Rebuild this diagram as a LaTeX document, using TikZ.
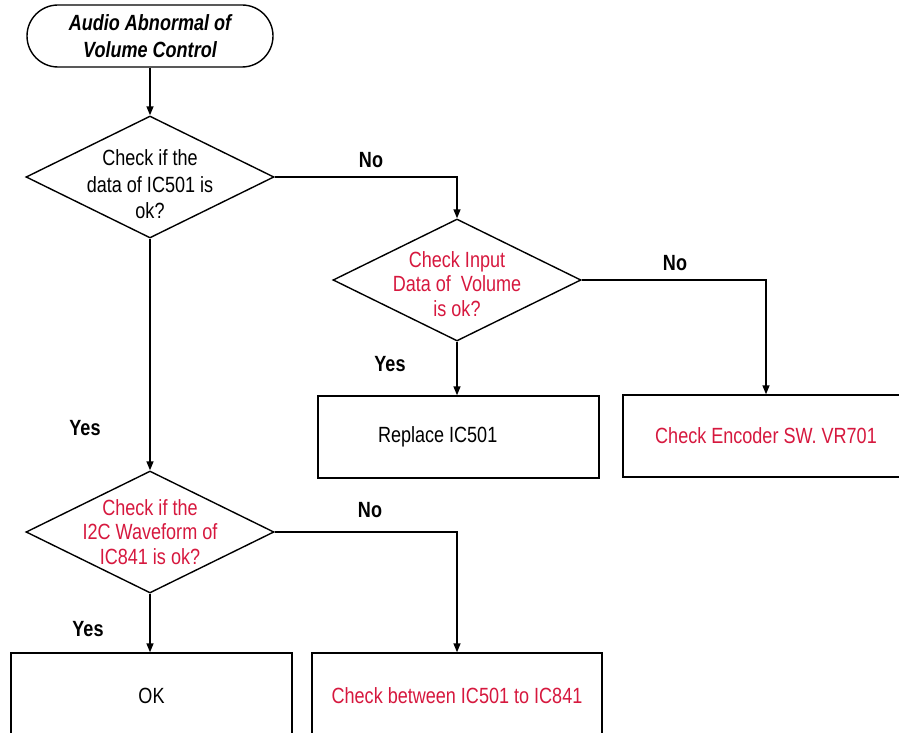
\documentclass[tikz,border=0pt]{standalone}
\usepackage{fontspec}
\setmainfont{Liberation Sans}[FakeStretch=0.82]
\usetikzlibrary{shapes.geometric,arrows.meta}
\definecolor{chkred}{RGB}{214,24,62}
\newcommand{\asktext}[2]{\raisebox{#1}[\height][\depth]{\begin{tabular}{@{}c@{}}#2\end{tabular}}}

\begin{document}
\begin{tikzpicture}[x=1pt,y=1pt,line width=1.4pt,
  >={Triangle[length=9pt,width=7pt]},
  every node/.style={font=\fontsize{22}{27}\selectfont},
  startbox/.style={draw,rounded corners=31pt,minimum width=246pt,minimum height=62pt,align=center,inner sep=0pt},
  askbox/.style={draw,diamond,aspect=2,minimum width=248pt,minimum height=122pt,inner sep=-16pt},
  actbox/.style={draw,rectangle,minimum height=82pt,align=center},
  lbl/.style={font=\fontsize{22}{27}\selectfont\bfseries}]
  \useasboundingbox (0,0) rectangle (899,-733);
  \clip (0,0) rectangle (899,-733);
  % Start
  \node[startbox] (start) at (150,-36) {\bfseries\itshape Audio Abnormal of\\\bfseries\itshape Volume Control};
  %Check IC501
  \node[askbox,font=\fontsize{22}{26.5}\selectfont] (d1) at (150,-177) {\asktext{-10pt}{Check if the\\data of IC501 is\\ok?}};
  %Check input data
  \node[askbox,text=chkred,font=\fontsize{22}{24.5}\selectfont] (d2) at (457,-280) {\asktext{-7pt}{Check Input\\Data of~ Volume\\is ok?}};
  \node[actbox,minimum width=281pt,text width=161pt,inner xsep=60pt,align=flush left] (repl) at (458.5,-437) {Replace IC501};
  \node[actbox,minimum width=286pt,text=chkred] (enc) at (766,-436) {Check Encoder SW. VR701};
  %Check I2C
  \node[askbox,text=chkred,font=\fontsize{22}{24.5}\selectfont] (d3) at (150,-532) {\asktext{-3pt}{Check if the\\I2C Waveform of\\IC841 is ok?}};
  \node[actbox,minimum width=281pt,minimum height=86pt] (ok) at (151.5,-696) {OK};
  \node[actbox,minimum width=290pt,minimum height=86pt,text=chkred] (betw) at (457,-696) {Check between IC501 to IC841};
  %Answers
  \node[lbl] (no1) at (371,-160) {No};
  \node[lbl] (no2) at (675,-263) {No};
  \node[lbl] (no3) at (370,-510) {No};
  \node[lbl] (yes1) at (390,-364) {Yes};
  \node[lbl] (yes2) at (85,-428) {Yes};
  \node[lbl] (yes3) at (88,-629) {Yes};
  %Connectors
  \draw[->] (start) -- (d1);
  \draw[->] (d1.east) -| (d2.north);
  \draw[->] (d2.east) -| (enc.north);
  \draw[->] (d2.south) -- (d2.south |- repl.north);
  \draw[->] (d1.south) -- (d3.north);
  \draw[->] (d3.east) -| (betw.north);
  \draw[->] (d3.south) -- (d3.south |- ok.north);
\end{tikzpicture}
\end{document}
